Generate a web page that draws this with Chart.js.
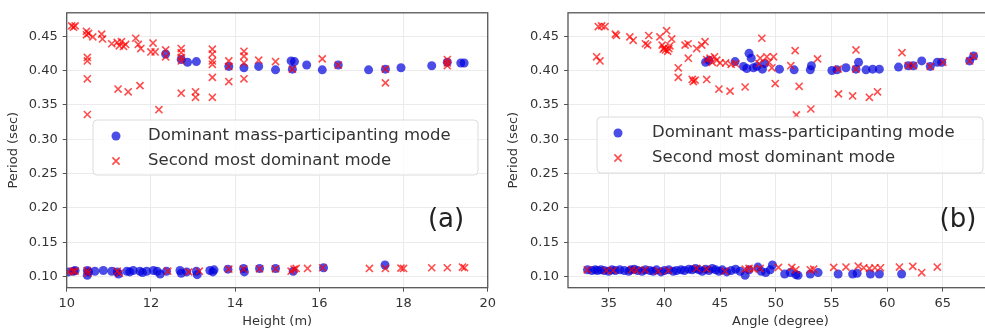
<!DOCTYPE html>
<html>
<head>
<meta charset="utf-8">
<script src="https://cdn.jsdelivr.net/npm/chart.js@4.4.1/dist/chart.umd.min.js"></script>
<style>
  html, body { margin: 0; padding: 0; background: #fff; width: 985px; height: 332px; overflow: hidden; }
  #wrap { position: relative; width: 985px; height: 332px; overflow: hidden; }
  canvas { position: absolute; top: 0; }
</style>
</head>
<body>
<div id="wrap">
  <canvas id="heightChart" width="500" height="332" style="left:0"></canvas>
  <canvas id="angleChart" width="500" height="332" style="left:500px"></canvas>
</div>
<script>
// Datos
const seriesNames = ['Dominant mass-participanting mode', 'Second most dominant mode'];
const heightTicks = [10, 12, 14, 16, 18, 20];
const angleTicks = [35, 40, 45, 50, 55, 60, 65];
const periodTicks = [0.10, 0.15, 0.20, 0.25, 0.30, 0.35, 0.40, 0.45];

// (a) Altura vs periodo
const heightDominant = [
  [12.35,0.424],[12.72,0.416],[12.87,0.412],[13.08,0.413],[13.85,0.406],[14.21,0.404],[14.56,0.406],
  [14.96,0.401],[15.33,0.414],[15.41,0.413],[15.36,0.402],[15.70,0.408],[16.07,0.401],[16.45,0.408],
  [17.17,0.401],[17.57,0.402],[17.94,0.404],[18.67,0.407],[19.04,0.412],[19.36,0.411],[19.44,0.411],
  [10.04,0.107],[10.16,0.108],[10.20,0.109],[10.49,0.109],[10.49,0.102],[10.52,0.107],[10.67,0.108],
  [10.87,0.109],[11.07,0.108],[11.20,0.107],[11.23,0.104],[11.43,0.108],[11.50,0.107],[11.58,0.109],
  [11.74,0.108],[11.80,0.106],[11.90,0.108],[12.06,0.109],[12.15,0.108],[12.22,0.104],[12.37,0.108],
  [12.69,0.109],[12.72,0.105],[12.85,0.107],[13.10,0.103],[13.08,0.108],[13.40,0.109],[13.47,0.107],
  [13.50,0.110],[13.83,0.111],[14.20,0.112],[14.22,0.107],[14.58,0.112],[14.96,0.112],[15.38,0.108],
  [16.10,0.113],[17.56,0.117]
];
const heightSecond = [
  [10.12,0.465],[10.20,0.465],[10.16,0.463],[10.47,0.457],[10.47,0.452],[10.52,0.454],[10.62,0.449],
  [10.83,0.453],[10.85,0.446],[10.49,0.419],[10.49,0.414],[10.49,0.388],[10.49,0.336],[11.07,0.439],
  [11.20,0.441],[11.25,0.436],[11.30,0.442],[11.35,0.435],[11.40,0.438],[11.64,0.447],[11.70,0.438],
  [11.76,0.432],[11.22,0.373],[11.46,0.369],[11.74,0.378],[12.05,0.440],[12.00,0.427],[12.10,0.427],
  [12.19,0.343],[12.35,0.430],[12.35,0.420],[12.72,0.432],[12.72,0.426],[12.72,0.419],[12.72,0.414],
  [12.72,0.367],[13.06,0.369],[13.06,0.361],[13.46,0.431],[13.46,0.424],[13.46,0.414],[13.46,0.409],
  [13.46,0.390],[13.46,0.361],[13.85,0.414],[13.85,0.406],[13.85,0.384],[14.21,0.428],[14.21,0.421],
  [14.21,0.411],[14.21,0.388],[14.56,0.415],[14.96,0.413],[15.36,0.402],[16.07,0.417],[16.45,0.408],
  [17.57,0.402],[17.57,0.382],[19.04,0.416],[19.04,0.411],[19.04,0.407],
  [10.05,0.107],[10.15,0.108],[10.20,0.108],[10.49,0.109],[10.50,0.105],[11.20,0.108],[11.25,0.105],
  [12.40,0.108],[12.90,0.107],[13.15,0.108],[13.85,0.111],[14.20,0.111],[14.58,0.1115],[14.96,0.1115],
  [15.33,0.108],[15.40,0.111],[15.45,0.112],[15.72,0.112],[16.08,0.113],[17.19,0.112],[17.57,0.112],
  [17.94,0.1125],[18.00,0.112],[18.67,0.113],[19.04,0.113],[19.40,0.114],[19.45,0.113]
];

// (b) Ángulo vs periodo
const angleDominant = [
  [43.7,0.412],[44.0,0.415],[46.35,0.413],[47.1,0.406],[47.4,0.403],[47.6,0.425],[47.8,0.418],
  [48.0,0.404],[48.3,0.406],[48.8,0.402],[49.0,0.410],[50.33,0.402],[51.65,0.401],[53.1,0.401],
  [53.2,0.407],[55.04,0.400],[55.5,0.401],[56.3,0.404],[57.2,0.402],[57.43,0.412],[58.1,0.401],
  [58.7,0.402],[59.3,0.402],[61.02,0.405],[61.9,0.407],[62.35,0.407],[63.1,0.414],[63.87,0.406],
  [64.5,0.412],[64.9,0.412],[67.4,0.414],[67.76,0.421],
  [33.1,0.110],[33.5,0.109],[33.8,0.110],[34.0,0.109],[34.3,0.110],[34.6,0.109],[35.0,0.108],
  [35.3,0.110],[35.6,0.109],[36.0,0.110],[36.4,0.109],[36.8,0.108],[37.0,0.110],[37.3,0.111],
  [37.6,0.109],[38.0,0.108],[38.3,0.110],[38.7,0.109],[39.0,0.108],[39.3,0.110],[39.7,0.107],
  [40.0,0.109],[40.4,0.110],[40.8,0.108],[41.1,0.109],[41.5,0.110],[41.8,0.109],[42.2,0.111],
  [42.5,0.110],[42.8,0.112],[43.1,0.110],[43.4,0.108],[43.7,0.111],[44.0,0.109],[44.3,0.112],
  [44.6,0.110],[44.9,0.108],[45.2,0.110],[45.6,0.107],[46.0,0.109],[46.4,0.111],[46.8,0.108],
  [47.25,0.102],[47.6,0.110],[48.4,0.114],[48.7,0.108],[49.1,0.106],[49.5,0.110],[49.7,0.117],
  [50.8,0.104],[51.3,0.106],[51.8,0.103],[52.0,0.102],[53.1,0.104],[53.8,0.106],[55.6,0.104],
  [56.9,0.104],[57.3,0.105],[58.5,0.104],[59.3,0.104],[61.3,0.104]
];
const angleSecond = [
  [34.07,0.464],[34.37,0.465],[34.67,0.464],[33.92,0.420],[34.22,0.414],[35.6,0.453],[35.7,0.451],
  [36.9,0.449],[37.2,0.444],[38.3,0.439],[38.5,0.437],[38.6,0.451],[39.6,0.449],[39.8,0.437],
  [40.0,0.433],[40.1,0.430],[40.3,0.428],[40.5,0.436],[40.2,0.458],[40.66,0.446],[39.9,0.431],
  [40.4,0.432],[41.25,0.404],[41.25,0.390],[41.86,0.437],[42.13,0.439],[42.15,0.418],[42.5,0.387],
  [42.6,0.384],[42.76,0.386],[42.9,0.432],[43.36,0.437],[43.8,0.387],[43.65,0.442],[43.8,0.416],
  [44.1,0.418],[44.3,0.412],[44.5,0.420],[44.7,0.415],[45.0,0.411],[45.5,0.411],[46.0,0.409],
  [46.4,0.410],[44.9,0.373],[45.9,0.370],[47.25,0.376],[48.75,0.447],[48.5,0.410],[48.6,0.418],
  [49.2,0.420],[49.4,0.412],[49.8,0.420],[49.65,0.404],[49.95,0.381],[51.74,0.429],[51.35,0.407],
  [52.1,0.377],[51.85,0.3355],[53.15,0.344],[53.75,0.417],[55.6,0.402],[57.2,0.430],[57.2,0.402],
  [55.63,0.366],[56.9,0.363],[58.4,0.361],[59.13,0.369],[61.33,0.426],[61.9,0.407],[62.35,0.407],
  [63.87,0.406],[65.0,0.412],[67.4,0.414],[67.76,0.421],
  [33.08,0.110],[34.8,0.109],[35.4,0.109],[37.07,0.110],[37.5,0.109],[38.26,0.110],[39.46,0.108],
  [40.36,0.109],[42.9,0.112],[43.8,0.111],[45.45,0.108],[47.25,0.111],[47.6,0.112],[48.0,0.111],
  [48.6,0.112],[50.24,0.1136],[51.44,0.1136],[51.8,0.110],[53.1,0.110],[53.4,0.111],[55.2,0.1136],
  [56.3,0.114],[57.4,0.1155],[57.9,0.113],[58.4,0.112],[58.9,0.113],[59.4,0.113],[61.1,0.114],
  [62.3,0.115],[63.1,0.106],[64.5,0.114]
];

const BLUE = 'rgba(0, 0, 220, 0.7)';
const RED = 'rgba(255, 0, 0, 0.7)';
const FONT = '"DejaVu Sans", sans-serif';

// Marco del eje y leyenda dentro del área del gráfico
const panelDecor = {
  id: 'panelDecor',
  afterDatasetsDraw(chart) {
    const a = chart.chartArea;
    const ctx = chart.ctx;
    ctx.save();
    ctx.strokeStyle = '#555';
    ctx.lineWidth = 1.3;
    ctx.strokeRect(a.left, a.top, a.right - a.left, a.bottom - a.top);
    ctx.restore();
  },
  afterDraw(chart, args, opts) {
    const ctx = chart.ctx;
    const b = opts.box;
    ctx.save();
    // caja de la leyenda
    ctx.beginPath();
    ctx.roundRect(b.x, b.y, b.w, b.h, 4);
    ctx.fillStyle = 'rgba(255,255,255,0.8)';
    ctx.fill();
    ctx.strokeStyle = '#dcdcdc';
    ctx.lineWidth = 1;
    ctx.stroke();

    const rows = [b.y + 16, b.y + 41];
    // marcador círculo
    ctx.fillStyle = BLUE;
    ctx.beginPath();
    ctx.arc(opts.markerX, rows[0], 4.5, 0, Math.PI * 2);
    ctx.fill();
    // marcador cruz
    ctx.strokeStyle = RED;
    ctx.lineWidth = 1.6;
    const s = 3.6;
    ctx.beginPath();
    ctx.moveTo(opts.markerX - s, rows[1] - s); ctx.lineTo(opts.markerX + s, rows[1] + s);
    ctx.moveTo(opts.markerX - s, rows[1] + s); ctx.lineTo(opts.markerX + s, rows[1] - s);
    ctx.stroke();

    ctx.fillStyle = '#333';
    ctx.font = '16.5px ' + FONT;
    ctx.textBaseline = 'middle';
    ctx.textAlign = 'left';
    chart.data.datasets.forEach((ds, i) => ctx.fillText(ds.label, opts.textX, rows[i]));

    // etiqueta del panel
    ctx.font = '26px ' + FONT;
    ctx.textAlign = 'center';
    ctx.fillStyle = '#222';
    ctx.fillText(opts.tag, opts.tagX, opts.tagY);
    ctx.restore();
  }
};

function buildChart(canvasId, p) {
  const ctx = document.getElementById(canvasId).getContext('2d');
  return new Chart(ctx, {
    type: 'scatter',
    data: {
      datasets: [{
        label: seriesNames[0],
        data: p.dominant.map(d => ({ x: d[0], y: d[1] })),
        pointStyle: 'circle',
        pointRadius: 4.5,
        backgroundColor: BLUE,
        borderWidth: 0,
        order: 2
      }, {
        label: seriesNames[1],
        data: p.second.map(d => ({ x: d[0], y: d[1] })),
        pointStyle: 'crossRot',
        pointRadius: 5,
        borderColor: RED,
        borderWidth: 1.6,
        order: 1
      }]
    },
    options: {
      responsive: false,
      animation: false,
      events: [],
      layout: { padding: { top: p.top, right: p.right, left: 0, bottom: 0 } },
      plugins: {
        legend: { display: false },
        tooltip: { enabled: false },
        panelDecor: p.decor
      },
      scales: {
        x: {
          type: 'linear',
          min: p.xMin,
          max: p.xMax,
          afterBuildTicks: scale => { scale.ticks = p.xTicks.map(v => ({ value: v })); },
          afterFit: scale => { scale.height = 44.3; },
          grid: { color: '#ebebeb', tickColor: '#555', tickLength: 4 },
          border: { display: false },
          ticks: { color: '#333', font: { family: FONT, size: 13 }, padding: 4, maxRotation: 0 },
          title: { display: true, text: p.xTitle, color: '#333', font: { family: FONT, size: 13 }, padding: { top: 0, bottom: 3 } }
        },
        y: {
          type: 'linear',
          min: 0.084,
          max: 0.484,
          afterBuildTicks: scale => { scale.ticks = periodTicks.map(v => ({ value: v })); },
          afterFit: scale => { scale.width = p.left; },
          grid: { color: '#ebebeb', tickColor: '#555', tickLength: 4 },
          border: { display: false },
          ticks: { color: '#333', font: { family: FONT, size: 13 }, padding: 5, callback: v => v.toFixed(2) },
          title: { display: true, text: 'Period (sec)', color: '#333', font: { family: FONT, size: 13 }, padding: { top: 6, bottom: 0 } }
        }
      }
    },
    plugins: [panelDecor]
  });
}

buildChart('heightChart', {
  dominant: heightDominant, second: heightSecond,
  xMin: 10, xMax: 20, xTicks: heightTicks, xTitle: 'Height (m)',
  left: 66.7, top: 9, right: 11,
  decor: { box: { x: 93, y: 120, w: 385, h: 55 }, markerX: 116, textX: 148, tag: '(a)', tagX: 446, tagY: 220 }
});

buildChart('angleChart', {
  dominant: angleDominant, second: angleSecond,
  xMin: 31.35, xMax: 69.5, xTicks: angleTicks, xTitle: 'Angle (degree)',
  left: 68, top: 5, right: 7,
  decor: { box: { x: 97, y: 117, w: 386, h: 56 }, markerX: 118, textX: 152, tag: '(b)', tagX: 458, tagY: 220 }
});
</script>
</body>
</html>
